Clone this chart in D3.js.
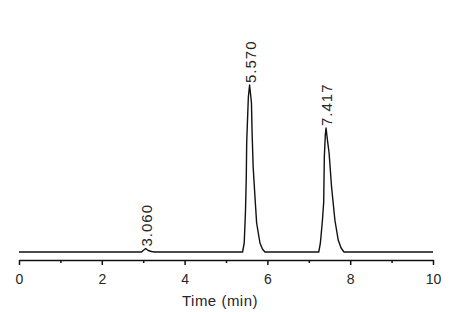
<!DOCTYPE html>
<html lang="en">
<head>
<meta charset="utf-8">
<title>Chromatogram</title>
<script src="https://cdn.jsdelivr.net/npm/d3@7"></script>
<style>
  body { margin: 0; background: #fff; }
  svg text { font-family: "Liberation Sans", Arial, sans-serif; fill: #262626; }
</style>
</head>
<body>
<div id="chart"></div>
<script>
  // trace: time (min) and detector signal (arbitrary units)
  const times  = [0, 2.96, 3.00, 3.06, 3.12, 3.20, 3.28,
                  5.40, 5.44, 5.47, 5.49, 5.50, 5.54, 5.57, 5.615, 5.63, 5.656, 5.70, 5.74, 5.82, 5.88, 5.94,
                  7.24, 7.28, 7.33, 7.36, 7.375, 7.40, 7.417, 7.45, 7.49, 7.55, 7.63, 7.71, 7.78, 7.85, 10];
  const signal = [0, 0, 1.5, 3.5, 1.5, 0.5, 0,
                  0, 9, 40, 75, 110, 155, 167, 149, 120, 85, 55, 29, 9, 3, 0,
                  0, 9, 32, 50, 95, 118, 124, 112, 99, 65, 32, 12, 4, 0, 0];

  // labelled peaks
  const peakTimes  = [3.06, 5.57, 7.417];
  const peakHeights = [3.5, 167, 124];
  const peakLabels = ["3.060", "5.570", "7.417"];

  const majorTicks = [0, 2, 4, 6, 8, 10];
  const minorTicks = [1, 3, 5, 7, 9];

  const width = 454, height = 312;

  const svg = d3.select("#chart").append("svg")
      .attr("width", width)
      .attr("height", height);

  const x = d3.scaleLinear().domain([0, 10]).range([19, 433]);
  const y = d3.scaleLinear().domain([0, 167]).range([252, 85]);

  const line = d3.line()
      .x(function(d) { return x(d[0]); })
      .y(function(d) { return y(d[1]); });

  const pts = times.map(function(t, i) { return [t, signal[i]]; });

  svg.append("path")
      .datum(pts)
      .attr("fill", "none")
      .attr("stroke", "#111")
      .attr("stroke-width", 1.4)
      .attr("stroke-linejoin", "round")
      .attr("d", line);

  // peak labels, rotated, reading upward
  svg.selectAll(".peak-label")
    .data(peakTimes)
    .enter()
    .append("text")
      .attr("class", "peak-label")
      .attr("transform", function(d, i) {
        return "translate(" + (x(d) + 6) + "," + (y(peakHeights[i]) - 2) + ") rotate(-90)";
      })
      .style("font-size", "15px")
      .style("letter-spacing", "1px")
      .text(function(d, i) { return peakLabels[i]; });

  // x axis: labelled major ticks + short minor ticks
  const axisY = 260;
  const major = d3.axisBottom(x)
      .tickValues(majorTicks)
      .tickSize(5)
      .tickSizeOuter(0)
      .tickPadding(9)
      .tickFormat(d3.format("d"));

  const gx = svg.append("g")
      .attr("transform", "translate(0," + axisY + ")")
      .call(major);
  gx.select(".domain").attr("stroke", "#111").attr("stroke-width", 1.5);
  gx.selectAll(".tick line").attr("stroke", "#111").attr("stroke-width", 1.5);
  gx.selectAll(".tick text")
      .style("font-size", "14px")
      .style("font-family", "Liberation Sans, Arial, sans-serif")
      .attr("fill", "#262626");

  const minor = d3.axisBottom(x)
      .tickValues(minorTicks)
      .tickSize(3)
      .tickSizeOuter(0)
      .tickFormat("");

  const gm = svg.append("g")
      .attr("transform", "translate(0," + axisY + ")")
      .call(minor);
  gm.select(".domain").remove();
  gm.selectAll(".tick line").attr("stroke", "#111").attr("stroke-width", 1.5);

  svg.append("text")
      .attr("x", 220)
      .attr("y", 306)
      .attr("text-anchor", "middle")
      .style("font-size", "15px")
      .style("letter-spacing", "0.5px")
      .text("Time (min)");
</script>
</body>
</html>
